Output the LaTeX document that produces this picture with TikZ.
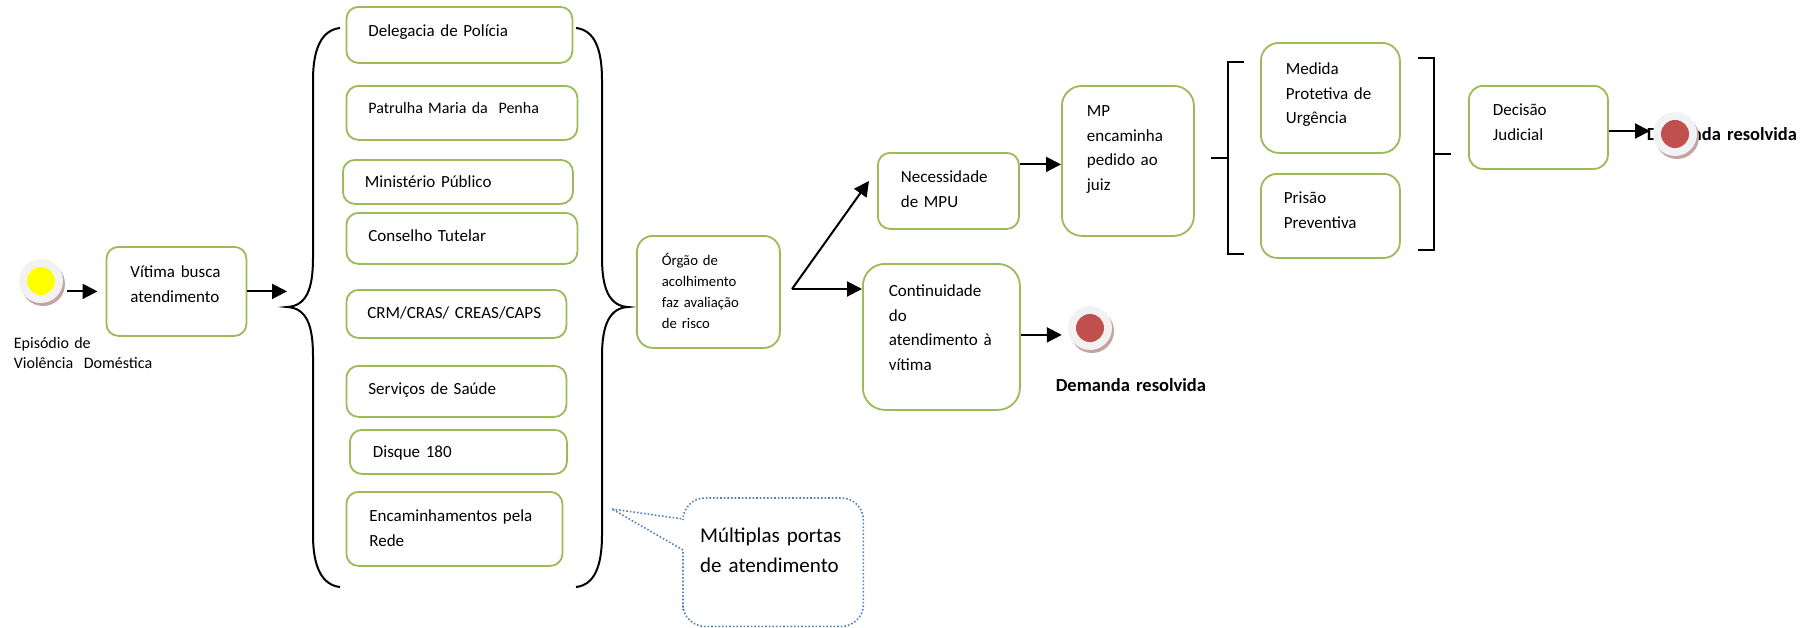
\documentclass[tikz,border=0pt]{standalone}
\usepackage{fontspec}
\setmainfont{Carlito}
\usetikzlibrary{arrows.meta,shadows}

\definecolor{verde}{HTML}{9BBB59}
\definecolor{azul}{HTML}{4F81BD}
\definecolor{claro}{HTML}{F2F2F2}
\definecolor{sombra}{HTML}{C4A3A2}
\definecolor{vermelho}{HTML}{C0504D}
\definecolor{amarelo}{HTML}{FFFF00}

\tikzset{
  rede/.style n args={4}{draw=verde,line width=1.8,fill=white,rounded corners=12,
    anchor=north west,inner ysep=0,inner xsep=#2,text width=#1-2*#2,
    text height=#3,text depth=#4-#3,align=left,
    font=\fontsize{17}{24.5}\selectfont},
  solto/.style={draw=none,fill=none},
  miudo/.style={font=\fontsize{14.7}{21}\selectfont},
  resolvida/.style={font=\fontsize{18.5}{20}\selectfont\bfseries},
  seta/.style={line width=2,-{Triangle[length=15,width=15]}},
  chave/.style={line width=2},
  evento/.style={circle,fill=claro,minimum size=44,inner sep=0,
    drop shadow={shadow xshift=2,shadow yshift=3,fill=sombra,opacity=1},
    path picture={\fill[#1] (path picture bounding box.center) circle (14);}}
}

\begin{document}
\begin{tikzpicture}[x=1pt,y=-1pt]
  \useasboundingbox (0,0) rectangle (1810,627);

  \node[evento=amarelo] (inicio) at (41,281) {};
  \node[rede={200}{13}{20}{50},solto,font=\fontsize{16}{20}\selectfont] (episodio) at (0,328)
    {Episódio de\\ \mbox{Violência\ \ Doméstica}};
  \node[rede={140}{24}{31}{89}] (vitima) at (105.5,246) {Vítima busca\\ atendimento};

  \node[rede={226}{22}{30}{56}] (delegacia) at (345.5,6) {Delegacia de Polícia};
  \node[rede={231}{22}{28}{54},font=\fontsize{16}{24}\selectfont] (patrulha) at (345.5,85) {Patrulha Maria da\ \ Penha};
  \node[rede={230}{22}{28}{44}] (ministerio) at (342,159) {Ministério Público};
  \node[rede={231}{22}{29}{51}] (conselho) at (345.5,212) {Conselho Tutelar};
  \node[rede={220}{21}{29}{48}] (crm) at (345.5,289) {\mbox{CRM/CRAS/ CREAS/CAPS}};
  \node[rede={220}{22}{29}{51}] (saude) at (345.5,365) {Serviços de Saúde};
  \node[rede={217}{23}{28}{44}] (disque) at (349,429) {Disque 180};
  \node[rede={216}{23}{30}{74}] (encaminhamentos) at (345.5,491) {\mbox{Encaminhamentos pela}\\ Rede};

  \coordinate (chaveE) at (287,307);
  \coordinate (chaveD) at (628,307);
  \draw[chave] (340,28) .. controls (322,30) and (313,48) .. (313,80) -- (313,258)
    .. controls (313,290) and (306,306) .. (chaveE)
    .. controls (306,308) and (313,324) .. (313,356) -- (313,535)
    .. controls (313,567) and (322,585) .. (340,587);
  \draw[chave] (576,28) .. controls (594,30) and (602,48) .. (602,80) -- (602,258)
    .. controls (602,290) and (610,306) .. (chaveD)
    .. controls (610,308) and (602,324) .. (602,356) -- (602,535)
    .. controls (602,567) and (594,585) .. (576,587);

  \node[rede={143}{25}{30}{112},rounded corners=16,miudo] (orgao) at (636,235)
    {Órgão de\\ acolhimento\\ \mbox{faz avaliação}\\ de risco};
  \node[rede={141}{23}{30}{76}] (necessidade) at (877,152) {Necessidade\\ de MPU};
  \node[rede={132}{25}{31}{150},rounded corners=20] (juiz) at (1061,85)
    {MP\\ encaminha\\ pedido ao\\ juiz};
  \node[rede={157}{26}{33}{146},rounded corners=22] (continuidade) at (862,263)
    {Continuidade\\ do\\ \mbox{atendimento à}\\ vítima};
  \node[rede={139}{25}{32}{110},rounded corners=18] (medida) at (1260,42)
    {Medida\\ \mbox{Protetiva de}\\ Urgência};
  \node[rede={139}{23}{30}{84},rounded corners=16] (prisao) at (1260,173) {Prisão\\ Preventiva};
  \node[rede={139}{24}{30}{83},rounded corners=14] (decisao) at (1468,85) {Decisão\\ Judicial};

  \node[rede={180}{0}{0}{20},solto,align=center,resolvida] (demandaA) at (1040,391) {Demanda resolvida};
  \node[rede={180}{0}{0}{20},solto,align=center,resolvida] (demandaB) at (1631,140) {Demanda resolvida};

  \coordinate (garfo) at (792,289);
  \coordinate (pontaA) at (869,181);
  \coordinate (pontaC) at (1650,131);
  \draw[seta,shorten <=4,shorten >=8] (inicio.east |- vitima.west) -- (vitima.west);
  \draw[seta] (vitima.east) -- (vitima.east -| chaveE);
  \draw[seta] (garfo) -- (pontaA);
  \draw[seta] (garfo) -- (garfo -| continuidade.west);
  \draw[seta] ([yshift=-3.5]necessidade.east |- juiz.west) -- ([yshift=-3.5]juiz.west);

  \node[evento=vermelho] (fimA) at (1090,328) {};
  \draw[seta,shorten >=6] ([yshift=2]continuidade.east) -- ([yshift=2]continuidade.east -| fimA.west);
  \draw[seta] (decisao.east |- pontaC) -- (pontaC);
  \node[evento=vermelho] (fimB) at (1675,134) {};

  \coordinate (colcheteE) at (1228,158);
  \coordinate (colcheteD) at (1434,154);
  \draw[chave] (1244,62) -- (1228,62) -- (1228,254) -- (1244,254);
  \draw[chave] (colcheteE) -- ++(-17,0);
  \draw[chave] (1418,58) -- (1434,58) -- (1434,250) -- (1418,250);
  \draw[chave] (colcheteD) -- ++(17,0);

  \coordinate (pontaB) at (612,509);
  \node[anchor=north west,inner ysep=0,inner xsep=17,text width=146,text height=44,text depth=84,
    align=left,font=\fontsize{21}{30}\selectfont] (balao) at (683,498) {\mbox{Múltiplas portas}\\ \mbox{de atendimento}};
  \draw[azul,line width=1.6,dash pattern=on 1.6 off 2] (pontaB) [sharp corners] -- ([yshift=-21]balao.north west)
    [rounded corners=22] -- (balao.north west) -- (balao.north east) -- (balao.south east) -- (balao.south west)
    -- ([yshift=-90]balao.north west) [sharp corners] -- ([yshift=-52]balao.north west) -- cycle;
\end{tikzpicture}
\end{document}
